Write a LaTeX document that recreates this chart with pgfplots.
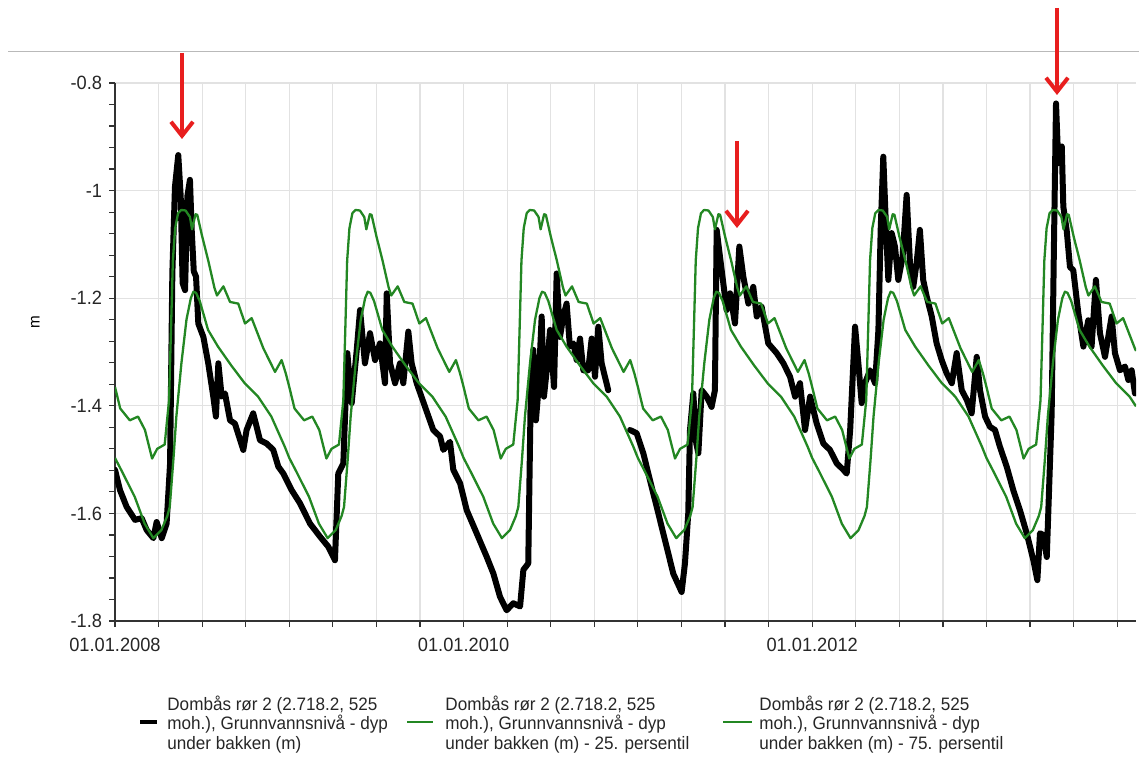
\documentclass[border=0pt]{standalone}
\usepackage{fontspec}
\setmainfont{Liberation Sans}[FakeStretch=0.95]
\usepackage{pgfplots}
\pgfplotsset{compat=1.18}
\usetikzlibrary{arrows.meta}
\definecolor{pgreen}{RGB}{35,135,35}
\definecolor{pred}{RGB}{232,30,30}
\definecolor{gridc}{RGB}{226,226,226}
\definecolor{axc}{RGB}{50,50,50}

\begin{document}
\begin{tikzpicture}
\useasboundingbox (0,0) rectangle (569.5pt,378pt);
\draw[gray!55, line width=0.5pt] (4pt,352pt) -- (569.5pt,352pt);
\begin{axis}[
  at={(57.5pt,67.5pt)}, anchor=south west, scale only axis,
  width=510.5pt, height=269pt,
  xmin=2008, xmax=2013.858, ymin=-1.8, ymax=-0.8,
  axis lines=left, axis line style={-, draw=axc, line width=0.75pt},
  xtick={2008,2010,2012},
  xticklabels={01.01.2008,01.01.2010,01.01.2012},
  minor xtick={2008.25,2008.5,2008.75,2009,2009.25,2009.5,2009.75,2010.25,2010.5,2010.75,2011,2011.25,2011.5,2011.75,2012.25,2012.5,2012.75,2013,2013.25,2013.5,2013.75},
  ytick={-1.8,-1.6,-1.4,-1.2,-1,-0.8},
  minor y tick num=4,
  tick align=outside, major tick length=3pt, minor tick length=3pt,
  tick style={axc, line width=0.6pt},
  xmajorgrids=true, xminorgrids=true, ymajorgrids=true,
  grid style={gridc, line width=0.6pt},
  major grid style={gridc, line width=0.6pt},
  minor grid style={gridc, line width=0.6pt},
  ticklabel style={font=\fontsize{9.6}{11}\selectfont, text=black!85},
  xticklabel style={yshift=-2pt},
  /pgf/number format/assume math mode=true,
  ylabel={m},
  ylabel style={font=\fontsize{8}{9}\selectfont, at={(axis description cs:-0.078,0.556)}, anchor=center},
  unbounded coords=jump,
]
% observed level
\addplot[black, line width=3pt, line join=round, line cap=round] table[row sep=\\] {
x y\\
2008.000 -1.519\\ 2008.029 -1.557\\ 2008.067 -1.588\\ 2008.115 -1.612\\ 2008.153 -1.609\\
2008.182 -1.631\\ 2008.220 -1.646\\ 2008.239 -1.616\\ 2008.268 -1.646\\ 2008.296 -1.619\\
2008.316 -1.507\\ 2008.329 -1.154\\ 2008.344 -0.993\\ 2008.363 -0.934\\ 2008.377 -1.011\\
2008.388 -1.172\\ 2008.402 -1.185\\ 2008.415 -1.011\\ 2008.430 -0.980\\ 2008.440 -1.073\\
2008.452 -1.150\\ 2008.465 -1.160\\ 2008.478 -1.247\\ 2008.507 -1.272\\ 2008.535 -1.321\\
2008.564 -1.383\\ 2008.579 -1.420\\ 2008.593 -1.321\\ 2008.612 -1.383\\ 2008.631 -1.377\\
2008.660 -1.427\\ 2008.688 -1.433\\ 2008.736 -1.482\\ 2008.755 -1.445\\ 2008.793 -1.414\\
2008.832 -1.464\\ 2008.870 -1.470\\ 2008.908 -1.482\\ 2008.937 -1.513\\ 2008.966 -1.526\\
2009.014 -1.557\\ 2009.061 -1.581\\ 2009.119 -1.619\\ 2009.176 -1.643\\ 2009.224 -1.662\\
2009.262 -1.687\\ 2009.281 -1.526\\ 2009.310 -1.507\\ 2009.333 -1.302\\ 2009.358 -1.395\\
2009.387 -1.296\\ 2009.406 -1.222\\ 2009.434 -1.321\\ 2009.463 -1.265\\ 2009.492 -1.315\\
2009.520 -1.284\\ 2009.549 -1.358\\ 2009.559 -1.191\\ 2009.578 -1.321\\ 2009.607 -1.358\\
2009.635 -1.321\\ 2009.654 -1.358\\ 2009.683 -1.262\\ 2009.702 -1.321\\ 2009.731 -1.358\\
2009.779 -1.402\\ 2009.826 -1.445\\ 2009.865 -1.457\\ 2009.884 -1.482\\ 2009.922 -1.467\\
2009.941 -1.519\\ 2009.980 -1.544\\ 2010.018 -1.594\\ 2010.075 -1.637\\ 2010.133 -1.681\\
2010.171 -1.712\\ 2010.209 -1.755\\ 2010.247 -1.780\\ 2010.285 -1.767\\ 2010.324 -1.773\\
2010.343 -1.705\\ 2010.371 -1.693\\ 2010.385 -1.383\\ 2010.400 -1.296\\ 2010.415 -1.427\\
2010.429 -1.371\\ 2010.448 -1.234\\ 2010.461 -1.383\\ 2010.477 -1.334\\ 2010.496 -1.259\\
2010.519 -1.365\\ 2010.534 -1.154\\ 2010.553 -1.272\\ 2010.572 -1.234\\ 2010.591 -1.210\\
2010.610 -1.290\\ 2010.630 -1.284\\ 2010.649 -1.315\\ 2010.668 -1.275\\ 2010.687 -1.334\\
2010.715 -1.334\\ 2010.735 -1.275\\ 2010.754 -1.346\\ 2010.773 -1.253\\ 2010.792 -1.321\\
2010.830 -1.371\\ 2010.890 nan\\
2010.955 -1.445\\ 2010.993 -1.451\\ 2011.031 -1.488\\ 2011.060 -1.526\\ 2011.108 -1.588\\
2011.165 -1.662\\ 2011.203 -1.712\\ 2011.251 -1.746\\ 2011.270 -1.693\\ 2011.289 -1.600\\
2011.299 -1.445\\ 2011.318 -1.377\\ 2011.335 -1.470\\ 2011.347 -1.488\\ 2011.366 -1.371\\
2011.395 -1.383\\ 2011.423 -1.402\\ 2011.442 -1.371\\ 2011.452 -1.073\\ 2011.471 -1.123\\
2011.490 -1.172\\ 2011.509 -1.222\\ 2011.529 -1.191\\ 2011.557 -1.247\\ 2011.582 -1.104\\
2011.605 -1.160\\ 2011.634 -1.210\\ 2011.662 -1.179\\ 2011.682 -1.234\\ 2011.710 -1.216\\
2011.748 -1.284\\ 2011.796 -1.302\\ 2011.835 -1.321\\ 2011.873 -1.346\\ 2011.902 -1.383\\
2011.930 -1.358\\ 2011.959 -1.445\\ 2011.988 -1.383\\ 2012.026 -1.433\\ 2012.064 -1.470\\
2012.102 -1.482\\ 2012.141 -1.507\\ 2012.179 -1.519\\ 2012.198 -1.526\\ 2012.218 -1.445\\
2012.246 -1.253\\ 2012.265 -1.321\\ 2012.284 -1.395\\ 2012.303 -1.358\\ 2012.332 -1.334\\
2012.361 -1.358\\ 2012.380 -1.259\\ 2012.393 -1.073\\ 2012.408 -0.937\\ 2012.424 -1.073\\
2012.437 -1.166\\ 2012.456 -1.079\\ 2012.475 -1.104\\ 2012.494 -1.166\\ 2012.519 -1.123\\
2012.542 -1.008\\ 2012.561 -1.135\\ 2012.580 -1.179\\ 2012.599 -1.135\\ 2012.618 -1.073\\
2012.637 -1.166\\ 2012.657 -1.197\\ 2012.686 -1.234\\ 2012.714 -1.284\\ 2012.743 -1.315\\
2012.772 -1.340\\ 2012.801 -1.358\\ 2012.829 -1.302\\ 2012.858 -1.371\\ 2012.887 -1.389\\
2012.915 -1.414\\ 2012.944 -1.309\\ 2012.963 -1.371\\ 2012.992 -1.420\\ 2013.020 -1.439\\
2013.049 -1.445\\ 2013.077 -1.476\\ 2013.116 -1.513\\ 2013.154 -1.557\\ 2013.192 -1.594\\
2013.231 -1.637\\ 2013.269 -1.687\\ 2013.292 -1.724\\ 2013.307 -1.637\\ 2013.326 -1.640\\
2013.346 -1.681\\ 2013.361 -1.538\\ 2013.374 -1.414\\ 2013.387 -1.104\\ 2013.399 -0.838\\
2013.412 -0.949\\ 2013.432 -0.918\\ 2013.441 -1.030\\ 2013.460 -1.073\\ 2013.479 -1.142\\
2013.498 -1.148\\ 2013.527 -1.228\\ 2013.556 -1.290\\ 2013.584 -1.241\\ 2013.603 -1.290\\
2013.628 -1.166\\ 2013.651 -1.265\\ 2013.680 -1.309\\ 2013.718 -1.234\\ 2013.737 -1.302\\
2013.766 -1.334\\ 2013.795 -1.327\\ 2013.814 -1.352\\ 2013.833 -1.334\\ 2013.852 -1.377\\
};
% 25th percentile
\addplot[pgreen, line width=1.15pt, line join=round] table[row sep=\\] {
x y\\
2008.000 -1.497\\ 2008.040 -1.522\\ 2008.113 -1.569\\ 2008.170 -1.619\\ 2008.220 -1.646\\ 2008.266 -1.631\\ 2008.300 -1.605\\ 2008.314 -1.588\\ 2008.335 -1.500\\ 2008.352 -1.420\\ 2008.381 -1.321\\ 2008.410 -1.240\\ 2008.435 -1.200\\ 2008.450 -1.188\\ 2008.465 -1.190\\ 2008.486 -1.205\\ 2008.534 -1.259\\ 2008.591 -1.290\\ 2008.667 -1.325\\ 2008.744 -1.358\\ 2008.821 -1.383\\ 2008.897 -1.420\\ 2008.974 -1.476\\
2009.000 -1.497\\ 2009.040 -1.522\\ 2009.113 -1.569\\ 2009.170 -1.619\\ 2009.220 -1.646\\ 2009.266 -1.631\\ 2009.300 -1.605\\ 2009.314 -1.588\\ 2009.335 -1.500\\ 2009.352 -1.420\\ 2009.381 -1.321\\ 2009.410 -1.240\\ 2009.435 -1.200\\ 2009.450 -1.188\\ 2009.465 -1.190\\ 2009.486 -1.205\\ 2009.534 -1.259\\ 2009.591 -1.290\\ 2009.667 -1.325\\ 2009.744 -1.358\\ 2009.821 -1.383\\ 2009.897 -1.420\\ 2009.974 -1.476\\
2010.000 -1.497\\ 2010.040 -1.522\\ 2010.113 -1.569\\ 2010.170 -1.619\\ 2010.220 -1.646\\ 2010.266 -1.631\\ 2010.300 -1.605\\ 2010.314 -1.588\\ 2010.335 -1.500\\ 2010.352 -1.420\\ 2010.381 -1.321\\ 2010.410 -1.240\\ 2010.435 -1.200\\ 2010.450 -1.188\\ 2010.465 -1.190\\ 2010.486 -1.205\\ 2010.534 -1.259\\ 2010.591 -1.290\\ 2010.667 -1.325\\ 2010.744 -1.358\\ 2010.821 -1.383\\ 2010.897 -1.420\\ 2010.974 -1.476\\
2011.000 -1.497\\ 2011.040 -1.522\\ 2011.113 -1.569\\ 2011.170 -1.619\\ 2011.220 -1.646\\ 2011.266 -1.631\\ 2011.300 -1.605\\ 2011.314 -1.588\\ 2011.335 -1.500\\ 2011.352 -1.420\\ 2011.381 -1.321\\ 2011.410 -1.240\\ 2011.435 -1.200\\ 2011.450 -1.188\\ 2011.465 -1.190\\ 2011.486 -1.205\\ 2011.534 -1.259\\ 2011.591 -1.290\\ 2011.667 -1.325\\ 2011.744 -1.358\\ 2011.821 -1.383\\ 2011.897 -1.420\\ 2011.974 -1.476\\
2012.000 -1.497\\ 2012.040 -1.522\\ 2012.113 -1.569\\ 2012.170 -1.619\\ 2012.220 -1.646\\ 2012.266 -1.631\\ 2012.300 -1.605\\ 2012.314 -1.588\\ 2012.335 -1.500\\ 2012.352 -1.420\\ 2012.381 -1.321\\ 2012.410 -1.240\\ 2012.435 -1.200\\ 2012.450 -1.188\\ 2012.465 -1.190\\ 2012.486 -1.205\\ 2012.534 -1.259\\ 2012.591 -1.290\\ 2012.667 -1.325\\ 2012.744 -1.358\\ 2012.821 -1.383\\ 2012.897 -1.420\\ 2012.974 -1.476\\
2013.000 -1.497\\ 2013.040 -1.522\\ 2013.113 -1.569\\ 2013.170 -1.619\\ 2013.220 -1.646\\ 2013.266 -1.631\\ 2013.300 -1.605\\ 2013.314 -1.588\\ 2013.335 -1.500\\ 2013.352 -1.420\\ 2013.381 -1.321\\ 2013.410 -1.240\\ 2013.435 -1.200\\ 2013.450 -1.188\\ 2013.465 -1.190\\ 2013.486 -1.205\\ 2013.534 -1.259\\ 2013.591 -1.290\\ 2013.667 -1.325\\ 2013.744 -1.358\\ 2013.821 -1.383\\ 2013.858 -1.401\\
};
% 75th percentile
\addplot[pgreen, line width=1.15pt, line join=round] table[row sep=\\] {
x y\\
2008.000 -1.365\\ 2008.030 -1.405\\ 2008.085 -1.427\\ 2008.132 -1.420\\ 2008.172 -1.445\\ 2008.213 -1.498\\ 2008.242 -1.480\\ 2008.285 -1.472\\ 2008.310 -1.390\\ 2008.322 -1.250\\ 2008.332 -1.130\\ 2008.345 -1.070\\ 2008.362 -1.042\\ 2008.380 -1.036\\ 2008.405 -1.037\\ 2008.430 -1.049\\ 2008.442 -1.072\\ 2008.462 -1.044\\ 2008.472 -1.045\\ 2008.500 -1.085\\ 2008.535 -1.130\\ 2008.570 -1.180\\ 2008.585 -1.195\\ 2008.622 -1.178\\ 2008.660 -1.207\\ 2008.707 -1.210\\ 2008.746 -1.247\\ 2008.784 -1.237\\ 2008.851 -1.293\\ 2008.918 -1.337\\ 2008.956 -1.315\\ 2008.980 -1.340\\
2009.000 -1.365\\ 2009.030 -1.405\\ 2009.085 -1.427\\ 2009.132 -1.420\\ 2009.172 -1.445\\ 2009.213 -1.498\\ 2009.242 -1.480\\ 2009.285 -1.472\\ 2009.310 -1.390\\ 2009.322 -1.250\\ 2009.332 -1.130\\ 2009.345 -1.070\\ 2009.362 -1.042\\ 2009.380 -1.036\\ 2009.405 -1.037\\ 2009.430 -1.049\\ 2009.442 -1.072\\ 2009.462 -1.044\\ 2009.472 -1.045\\ 2009.500 -1.085\\ 2009.535 -1.130\\ 2009.570 -1.180\\ 2009.585 -1.195\\ 2009.622 -1.178\\ 2009.660 -1.207\\ 2009.707 -1.210\\ 2009.746 -1.247\\ 2009.784 -1.237\\ 2009.851 -1.293\\ 2009.918 -1.337\\ 2009.956 -1.315\\ 2009.980 -1.340\\
2010.000 -1.365\\ 2010.030 -1.405\\ 2010.085 -1.427\\ 2010.132 -1.420\\ 2010.172 -1.445\\ 2010.213 -1.498\\ 2010.242 -1.480\\ 2010.285 -1.472\\ 2010.310 -1.390\\ 2010.322 -1.250\\ 2010.332 -1.130\\ 2010.345 -1.070\\ 2010.362 -1.042\\ 2010.380 -1.036\\ 2010.405 -1.037\\ 2010.430 -1.049\\ 2010.442 -1.072\\ 2010.462 -1.044\\ 2010.472 -1.045\\ 2010.500 -1.085\\ 2010.535 -1.130\\ 2010.570 -1.180\\ 2010.585 -1.195\\ 2010.622 -1.178\\ 2010.660 -1.207\\ 2010.707 -1.210\\ 2010.746 -1.247\\ 2010.784 -1.237\\ 2010.851 -1.293\\ 2010.918 -1.337\\ 2010.956 -1.315\\ 2010.980 -1.340\\
2011.000 -1.365\\ 2011.030 -1.405\\ 2011.085 -1.427\\ 2011.132 -1.420\\ 2011.172 -1.445\\ 2011.213 -1.498\\ 2011.242 -1.480\\ 2011.285 -1.472\\ 2011.310 -1.390\\ 2011.322 -1.250\\ 2011.332 -1.130\\ 2011.345 -1.070\\ 2011.362 -1.042\\ 2011.380 -1.036\\ 2011.405 -1.037\\ 2011.430 -1.049\\ 2011.442 -1.072\\ 2011.462 -1.044\\ 2011.472 -1.045\\ 2011.500 -1.085\\ 2011.535 -1.130\\ 2011.570 -1.180\\ 2011.585 -1.195\\ 2011.622 -1.178\\ 2011.660 -1.207\\ 2011.707 -1.210\\ 2011.746 -1.247\\ 2011.784 -1.237\\ 2011.851 -1.293\\ 2011.918 -1.337\\ 2011.956 -1.315\\ 2011.980 -1.340\\
2012.000 -1.365\\ 2012.030 -1.405\\ 2012.085 -1.427\\ 2012.132 -1.420\\ 2012.172 -1.445\\ 2012.213 -1.498\\ 2012.242 -1.480\\ 2012.285 -1.472\\ 2012.310 -1.390\\ 2012.322 -1.250\\ 2012.332 -1.130\\ 2012.345 -1.070\\ 2012.362 -1.042\\ 2012.380 -1.036\\ 2012.405 -1.037\\ 2012.430 -1.049\\ 2012.442 -1.072\\ 2012.462 -1.044\\ 2012.472 -1.045\\ 2012.500 -1.085\\ 2012.535 -1.130\\ 2012.570 -1.180\\ 2012.585 -1.195\\ 2012.622 -1.178\\ 2012.660 -1.207\\ 2012.707 -1.210\\ 2012.746 -1.247\\ 2012.784 -1.237\\ 2012.851 -1.293\\ 2012.918 -1.337\\ 2012.956 -1.315\\ 2012.980 -1.340\\
2013.000 -1.365\\ 2013.030 -1.405\\ 2013.085 -1.427\\ 2013.132 -1.420\\ 2013.172 -1.445\\ 2013.213 -1.498\\ 2013.242 -1.480\\ 2013.285 -1.472\\ 2013.310 -1.390\\ 2013.322 -1.250\\ 2013.332 -1.130\\ 2013.345 -1.070\\ 2013.362 -1.042\\ 2013.380 -1.036\\ 2013.405 -1.037\\ 2013.430 -1.049\\ 2013.442 -1.072\\ 2013.462 -1.044\\ 2013.472 -1.045\\ 2013.500 -1.085\\ 2013.535 -1.130\\ 2013.570 -1.180\\ 2013.585 -1.195\\ 2013.622 -1.178\\ 2013.660 -1.207\\ 2013.707 -1.210\\ 2013.746 -1.247\\ 2013.784 -1.237\\ 2013.851 -1.293\\ 2013.858 -1.298\\
};
\end{axis}
% red annotation arrows
\draw[pred, line width=2pt, -{Straight Barb[length=7pt,width=11pt]}] (91pt,351.5pt) -- (91pt,308.5pt);
\draw[pred, line width=2pt, -{Straight Barb[length=7pt,width=11pt]}] (368.5pt,307.5pt) -- (368.5pt,264pt);
\draw[pred, line width=2pt, -{Straight Barb[length=7pt,width=11pt]}] (528.5pt,374pt) -- (528.5pt,330.5pt);
% legend
\draw[black, line width=2pt] (70pt,17pt) -- (78.5pt,17pt);
\draw[pgreen, line width=1.2pt] (203.5pt,17pt) -- (216.5pt,17pt);
\draw[pgreen, line width=1.2pt] (361.5pt,17pt) -- (376pt,17pt);
\begin{scope}[every node/.style={anchor=base west, inner sep=0pt, font=\fontsize{9}{10}\selectfont, text=black!85}]
\node at (83.5pt,23pt) {Dombås rør 2 (2.718.2, 525};
\node at (83.5pt,13.25pt) {moh.), Grunnvannsnivå - dyp};
\node at (83.5pt,3.5pt) {under bakken (m)};
\node at (222.5pt,23pt) {Dombås rør 2 (2.718.2, 525};
\node at (222.5pt,13.25pt) {moh.), Grunnvannsnivå - dyp};
\node at (222.5pt,3.5pt) {under bakken (m) - 25. persentil};
\node at (379.5pt,23pt) {Dombås rør 2 (2.718.2, 525};
\node at (379.5pt,13.25pt) {moh.), Grunnvannsnivå - dyp};
\node at (379.5pt,3.5pt) {under bakken (m) - 75. persentil};
\end{scope}
\end{tikzpicture}
\end{document}
